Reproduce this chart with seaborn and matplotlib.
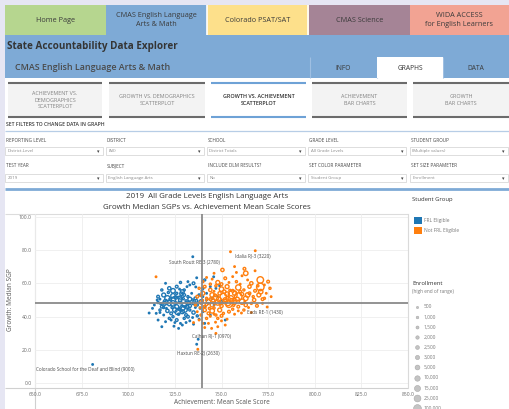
import matplotlib
matplotlib.use("Agg")
import matplotlib.pyplot as plt
from matplotlib.patches import Rectangle
import numpy as np
import pandas as pd
import seaborn as sns

# ---------------- data ----------------
tab_names = ["Home Page", "CMAS English Language\nArts & Math", "Colorado PSAT/SAT",
             "CMAS Science", "WIDA ACCESS\nfor English Learners"]
subtab_names = ["ACHIEVEMENT VS.\nDEMOGRAPHICS\nSCATTERPLOT", "GROWTH VS. DEMOGRAPHICS\nSCATTERPLOT",
                "GROWTH VS. ACHIEVEMENT\nSCATTERPLOT", "ACHIEVEMENT\nBAR CHARTS", "GROWTH\nBAR CHARTS"]
filter_labels_1 = ["REPORTING LEVEL", "DISTRICT", "SCHOOL", "GRADE LEVEL", "STUDENT GROUP"]
filter_values_1 = ["District-Level", "(All)", "District Totals", "All Grade Levels", "(Multiple values)"]
filter_labels_2 = ["TEST YEAR", "SUBJECT", "INCLUDE DLM RESULTS?", "SET COLOR PARAMETER", "SET SIZE PARAMETER"]
filter_values_2 = ["2019", "English Language Arts", "No", "Student Group", "Enrollment"]

groups = ["FRL Eligible", "Not FRL Eligible"]
size_bins = [500, 1000, 1500, 2000, 2500, 3000, 5000, 10000, 15000, 25000, 100000]
size_bin_labels = ["500", "1,000", "1,500", "2,000", "2,500", "3,000", "5,000",
                   "10,000", "15,000", "25,000", "100,000"]

frl_x = [734.6, 680.9, 752.0, 736.7, 737.5, 711.2, 724.5,
         732, 736.7, 741, 745.8, 728, 735,
         722, 726, 730, 733, 736.2, 740, 744, 747, 749, 724, 718, 729,
         716, 719, 721, 724, 726, 728, 730, 732, 734, 736, 738, 740, 742, 745, 748, 717, 727, 733,
         714, 716, 718, 720, 722, 724, 726, 728, 730, 731, 733, 735, 737, 739, 741, 743, 746, 750, 719, 729, 736, 725,
         715, 717, 719, 721, 723, 725, 727, 729, 731, 733, 735, 737, 740, 744, 724, 730,
         716, 720, 722, 726, 728, 730, 733, 735, 738, 729, 741, 718, 727,
         715.5, 717.5, 720.5, 722.5, 723.5, 725.5, 727.5, 729.5, 731.5, 732.5, 734.5, 736.5, 738.5, 721.5,
         727.5, 731.5, 723, 732, 734.5, 719.5, 728.5, 726.5, 717, 713, 742, 739.5, 720, 731, 725]
frl_y = [75.9, 11.4, 38.0, 23.5, 26.5, 42.2, 34.3,
         61, 63.3, 62, 63.9, 60.5, 60,
         57, 58, 56, 59, 57.8, 57, 58, 57, 58.5, 55.5, 56, 55,
         52, 53, 51, 52.5, 54, 51.5, 53, 52, 54, 51, 53, 52, 54, 51, 52, 50.5, 50.2, 50.5,
         47, 48.5, 46, 49, 47.5, 48, 46, 48.5, 47, 49.5, 46.5, 48, 47, 49, 46, 48, 47, 49, 45.5, 45.2, 45.5, 49.8,
         42, 44, 41, 43.5, 42, 44, 41.5, 43, 41, 44, 42.5, 40.5, 43, 41, 40, 44.5,
         38, 37, 39, 38, 36, 39, 37.5, 35.5, 38.5, 35, 36, 34, 33,
         50, 47.8, 45, 50.5, 45.5, 51.5, 44.5, 50.8, 45.8, 48.2, 50, 49.5, 45, 54.5,
         56.5, 58, 38, 40, 39.5, 48, 53.8, 42.8, 42.5, 45, 50, 55.5, 60, 36.5, 36.5]
frl_enroll = [500, 500, 500, 500, 500, 500, 500,
              500, 500, 1000, 500, 1000, 1500,
              2000, 1500, 1000, 500, 500, 1000, 500, 500, 500, 3000, 1000, 2500,
              1500, 2500, 5000, 3000, 1000, 2000, 1500, 1000, 500, 1500, 1000, 500, 500, 1000, 500, 500, 10000, 2500,
              500, 1000, 1500, 3000, 2000, 5000, 2500, 1500, 3000, 1000, 2000, 1500, 1000, 2500, 1000, 500, 500, 1000, 1000, 5000, 500, 15000,
              500, 1000, 500, 2000, 1500, 3000, 1000, 2500, 1500, 1000, 2000, 1000, 500, 500, 1000, 10000,
              500, 500, 1000, 1500, 500, 1000, 500, 500, 500, 500, 500, 500, 500,
              500, 1000, 500, 1500, 1000, 2000, 1500, 1000, 2500, 2000, 1000, 1500, 500, 1000,
              500, 500, 500, 1500, 500, 2500, 2000, 5000, 500, 500, 500, 500, 500, 500, 500]

nfrl_x = [714.9, 754.8, 768.1, 737.3, 774.5, 760.7,
          750.5, 762.3, 763, 768, 757, 746,
          740, 745, 752, 758, 764, 770.8, 775, 748, 756, 766, 742,
          738, 741, 744, 747, 750, 753, 756, 759, 762, 765, 768, 770.8, 776, 773, 746, 760,
          737, 740, 742, 745, 747, 749, 751, 753, 755, 757, 759, 761, 763, 765, 767, 770, 773, 776.6, 744, 752, 756,
          736, 739, 741, 743, 745, 748, 750, 752, 754, 757, 759, 761, 763, 766, 769, 772, 746, 740,
          737, 739, 741, 743, 745, 747, 749, 751, 754, 757, 762, 766, 744,
          738, 740, 742, 744.7, 746.8, 748, 750, 752, 741, 747, 735,
          743.5, 745.5, 746.5, 748.5, 749.5, 751.5, 753.5, 754.5, 755.5, 756.5, 758.5, 760, 762.5, 764,
          764.5, 767.5, 769.5, 771, 772, 774, 750, 754, 761, 758, 744, 739, 738.5, 742, 746, 750,
          753, 748, 743, 756, 759]
nfrl_y = [63.9, 78.9, 79.5, 20.5, 45.8, 42.2,
          68, 68.7, 66, 67.5, 70, 66,
          61, 62.5, 63, 61, 62, 62, 61, 60.5, 64, 60, 63.5,
          57, 58, 56, 58.5, 56.5, 58, 55.5, 57.5, 56, 58, 55.5, 57.8, 57, 59, 55.2, 59.5,
          52, 54, 51, 53, 51.5, 54, 52, 53.5, 51, 54, 52, 53.5, 51, 54, 52, 53, 51, 52, 50.5, 50.2, 53.2,
          47, 48.5, 46, 49, 47, 48.5, 46.5, 49, 47.5, 48.5, 46, 49, 47, 48, 46.5, 48, 45.2, 49.8,
          43, 41, 44, 42, 43.5, 41, 44, 42, 43, 41.5, 44, 42.5, 40.2,
          38, 36, 39, 33, 36.7, 39, 37.5, 35, 33.5, 30, 36.5,
          45, 49.8, 52.8, 50.5, 47.8, 55, 48.2, 55.8, 49.5, 46.8, 50.5, 55, 48.5, 53,
          45.5, 50, 58.5, 55, 50.5, 54, 59.5, 60.5, 64.5, 66.5, 59.5, 52.5, 45.5, 47.5, 41.5, 40.5,
          38.5, 34, 36, 44.5, 43.5]
nfrl_enroll = [500, 500, 500, 500, 500, 500,
               2000, 1500, 3000, 500, 500, 500,
               1000, 500, 1500, 1000, 500, 10000, 1500, 2500, 500, 2000, 500,
               1000, 1500, 2000, 1000, 3000, 2500, 1500, 5000, 1000, 2000, 1500, 15000, 1000, 500, 500, 500,
               1500, 2500, 1000, 3000, 5000, 2000, 10000, 3000, 5000, 2500, 15000, 2000, 3000, 1500, 1000, 2500, 1000, 500, 1500, 2500, 25000,
               1000, 2000, 1500, 3000, 2500, 5000, 2000, 3000, 10000, 2500, 1500, 5000, 2000, 1000, 1500, 500, 1000, 500,
               500, 1000, 2000, 1500, 3000, 1000, 2500, 1000, 1500, 500, 1000, 500, 500,
               500, 500, 1000, 500, 500, 1000, 500, 500, 500, 500, 500,
               1000, 2000, 1500, 3000, 1500, 2000, 5000, 1000, 3000, 1000, 2500, 1500, 1000, 3000,
               500, 2000, 1000, 3000, 1500, 500, 1500, 500, 500, 500, 1000, 500, 500, 1500, 500, 1500,
               500, 500, 500, 1000, 500]

point_labels = ["South Routt RE 3 (2780)", "Idalia RJ-3 (3220)", "Eads RE-1 (1430)",
                "Calhan RJ-1 (0970)", "Haxtun RE-2J (2630)",
                "Colorado School for the Deaf and Blind (9000)"]

ref_achievement = 739.7
ref_growth = 48.3
x_ticks = [650, 675, 700, 725, 750, 775, 800, 825, 850]
y_ticks = [0, 20, 40, 60, 80, 100]

df = pd.DataFrame({
    "achievement": frl_x + nfrl_x,
    "growth": frl_y + nfrl_y,
    "enrollment": frl_enroll + nfrl_enroll,
    "group": [groups[0]] * len(frl_x) + [groups[1]] * len(nfrl_x),
})

# ---------------- style ----------------
W, H = 509, 409
sns.set_theme(style="white")
plt.rcParams["font.family"] = ["Open Sans", "DejaVu Sans"]

BLUE, ORANGE = "#1f77b4", "#ff7f0e"
TXT = "#333333"
BAND = "#7eaad6"

fig = plt.figure(figsize=(W / 100, H / 100), dpi=100)
fig.patch.set_facecolor("white")
bg = fig.add_axes([0, 0, 1, 1])
bg.set_xlim(0, W)
bg.set_ylim(H, 0)
bg.axis("off")


def rect(x0, y0, x1, y1, fc, ec="none", lw=0, z=1):
    bg.add_patch(Rectangle((x0, y0), x1 - x0, y1 - y0, fc=fc, ec=ec, lw=lw, zorder=z))


def hline(x0, x1, y, c, lw=1, z=2):
    bg.plot([x0, x1], [y, y], color=c, lw=lw, zorder=z, solid_capstyle="butt")


def vline(x, y0, y1, c, lw=1, z=2):
    bg.plot([x, x], [y0, y1], color=c, lw=lw, zorder=z, solid_capstyle="butt")


# page background strips
rect(0, 0, W, 5, "#e6e6f3")
rect(0, 0, 5, H, "#e6e6f3")

# top navigation tabs
tab_colors = ["#b6d68f", BAND, "#fde08b", "#a58496", "#f2a393"]
tab_edges = [5, 106, 207, 309, 410, 509]
for i, name in enumerate(tab_names):
    rect(tab_edges[i], 5, tab_edges[i + 1], 35, tab_colors[i])
    bg.text((tab_edges[i] + tab_edges[i + 1]) / 2, 20, name, ha="center", va="center",
            fontsize=5.2, color="#3a3a3a", linespacing=1.25)
vline(207.5, 5, 35, "white", 1.2)
vline(308.5, 5, 35, "white", 1.2)

# title band
rect(5, 35, W, 78, BAND)
bg.text(7, 47, "State Accountability Data Explorer", ha="left", va="center",
        fontsize=7.1, fontweight="bold", color="#353535")
bg.text(15, 68, "CMAS English Language Arts & Math", ha="left", va="center",
        fontsize=6.4, fontweight="semibold", color="#4a4a4a")
for xs in [310, 377, 443]:
    vline(xs, 57, 78, "#9fbfe2", 0.8)
rect(377.5, 57, 443, 78, "white", z=3)
bg.text(343, 68, "INFO", ha="center", va="center", fontsize=4.8, color="#3a3a3a")
bg.text(410, 68, "GRAPHS", ha="center", va="center", fontsize=4.8, color="#333333", zorder=4)
bg.text(476, 68, "DATA", ha="center", va="center", fontsize=4.8, color="#3a3a3a")

# sub tabs
sub_edges = [(8, 102), (109, 205), (211, 306), (312, 407), (413, 509)]
for i, (name, (a, b)) in enumerate(zip(subtab_names, sub_edges)):
    active = i == 2
    rect(a, 82, b, 117, "white" if active else "#f3f3f3")
    lc = "#6ea2d6" if active else "#6b6b6b"
    hline(a, b, 82.5, lc, 1.5)
    hline(a, b, 116.5, lc, 1.5)
    bg.text((a + b) / 2, 100, name, ha="center", va="center", fontsize=3.9,
            color="#2e2e2e" if active else "#808080",
            fontweight="semibold" if active else "normal", linespacing=1.35)

# filters
bg.text(6, 125, "SET FILTERS TO CHANGE DATA IN GRAPH", ha="left", va="center",
        fontsize=3.7, fontweight="semibold", color="#3c3c3c")
hline(5, W, 131.3, "#b7cde6", 0.9)
col_x = [6, 107, 208, 309.5, 411]
for row, (labs, vals, ly, by) in enumerate([(filter_labels_1, filter_values_1, 140.3, 147),
                                             (filter_labels_2, filter_values_2, 165.7, 174)]):
    for cx, lab, val in zip(col_x, labs, vals):
        bg.text(cx, ly, lab, ha="left", va="center", fontsize=3.3, color="#444444")
        rect(cx - 1, by, cx + 97, by + 8, "white", ec="#d0d0d0", lw=0.5)
        bg.text(cx + 1.5, by + 4, val, ha="left", va="center", fontsize=3.2, color="#8a8a8a")
        bg.text(cx + 92.5, by + 4.3, "\u25BE", ha="center", va="center", fontsize=3.6,
                color="#444444", family="DejaVu Sans")
hline(5, W, 188.7, BAND, 2)

# chart title
bg.text(207, 197, "2019  All Grade Levels English Language Arts", ha="center", va="center",
        fontsize=5.7, color=TXT)
bg.text(207, 207.3, "Growth Median SGPs vs. Achievement Mean Scale Scores", ha="center", va="center",
        fontsize=5.7, color=TXT)

# pane separators
hline(5, 408, 213.5, "#dcdcdc", 0.8)
hline(5, 408, 388, "#d0d0d0", 0.8)
vline(35, 213.5, H, "#d0d0d0", 0.8)

# ---------------- scatter ----------------
ax = fig.add_axes([35 / W, 1 - 388 / H, (408 - 35) / W, (388 - 213.5) / H])
ax.set_facecolor("none")

outer_r = [1.4, 1.7, 2.0, 2.3, 2.6, 2.9, 3.3, 3.9, 4.4, 5.1, 6.0]
size_map = {b: (2 * 0.72 * max(r - 0.65, 0.5)) ** 2 for b, r in zip(size_bins, outer_r)}

sns.scatterplot(data=df, x="achievement", y="growth", hue="group", hue_order=groups,
                palette=[BLUE, ORANGE], size="enrollment", sizes=size_map,
                legend=False, linewidth=1.0, ax=ax, zorder=2)
coll = ax.collections[-1]
fcs = coll.get_facecolors()
coll.set_edgecolors(fcs)
coll.set_facecolors("none")
coll.set_linewidths(1.0)

ax.axvline(ref_achievement, color="#8a8a8a", lw=1.3, zorder=3)
ax.axhline(ref_growth, color="#8a8a8a", lw=1.3, zorder=3)

ax.set_xlim(650, 850)
ax.set_ylim(-2.7, 101.8)
ax.set_xticks(x_ticks)
ax.set_yticks(y_ticks)
ax.set_xticklabels([f"{v:.1f}" for v in x_ticks])
ax.set_yticklabels([f"{v:.1f}" for v in y_ticks])
ax.tick_params(axis="both", length=0, labelsize=3.6, labelcolor="#6a6a6a")
ax.tick_params(axis="x", pad=2.6)
ax.tick_params(axis="y", pad=2.6)
ax.grid(True, color="#eeeeee", lw=0.6, zorder=0)
ax.set_axisbelow(True)
for s in ["top", "left", "bottom"]:
    ax.spines[s].set_visible(False)
ax.spines["right"].set_color("#dadada")
ax.spines["right"].set_linewidth(0.8)
ax.set_xlabel("")
ax.set_ylabel("")

lab_kw = dict(fontsize=3.3, color="#4a4a4a", va="center", zorder=5)
ax.text(735.3, 72.4, point_labels[0], ha="center", **lab_kw)
ax.text(757.2, 76.0, point_labels[1], ha="left", **lab_kw)
ax.text(763.7, 42.3, point_labels[2], ha="left", **lab_kw)
ax.text(744.9, 28.0, point_labels[3], ha="center", **lab_kw)
ax.text(737.4, 17.7, point_labels[4], ha="center", **lab_kw)
ax.text(650.6, 8.1, point_labels[5], ha="left", **lab_kw)

bg.text(221.5, 403, "Achievement: Mean Scale Score", ha="center", va="center",
        fontsize=4.7, color="#555555")
bg.text(11, 300, "Growth: Median SGP", ha="center", va="center", rotation=90,
        fontsize=4.7, color="#555555")

# ---------------- legends ----------------
bg.text(412.5, 200, "Student Group", ha="left", va="center", fontsize=4.2, color=TXT)
for i, (g, c) in enumerate(zip(groups, [BLUE, ORANGE])):
    y0 = 216.7 + i * 10
    rect(414, y0, 421.7, y0 + 7.6, c)
    bg.text(424, y0 + 3.8, g, ha="left", va="center", fontsize=3.5, color="#7a7a7a")

bg.text(412.5, 283.3, "Enrollment", ha="left", va="center", fontsize=4.2, color=TXT)
bg.text(412.5, 291, "(high end of range)", ha="left", va="center", fontsize=3.4, color="#7a7a7a")
leg_r = [1.1, 1.3, 1.5, 1.7, 1.9, 2.1, 2.4, 2.7, 3.0, 3.4, 3.9]
for i, (lab, r) in enumerate(zip(size_bin_labels, leg_r)):
    yy = 306.7 + i * 10.13
    bg.scatter([417.3], [yy], s=(2 * 0.72 * r) ** 2, color="#c4c4c4", edgecolor="#a8a8a8",
               linewidth=0.4, zorder=3)
    bg.text(424, yy, lab, ha="left", va="center", fontsize=3.5, color="#7a7a7a")

fig.savefig("out.png", dpi=100)
